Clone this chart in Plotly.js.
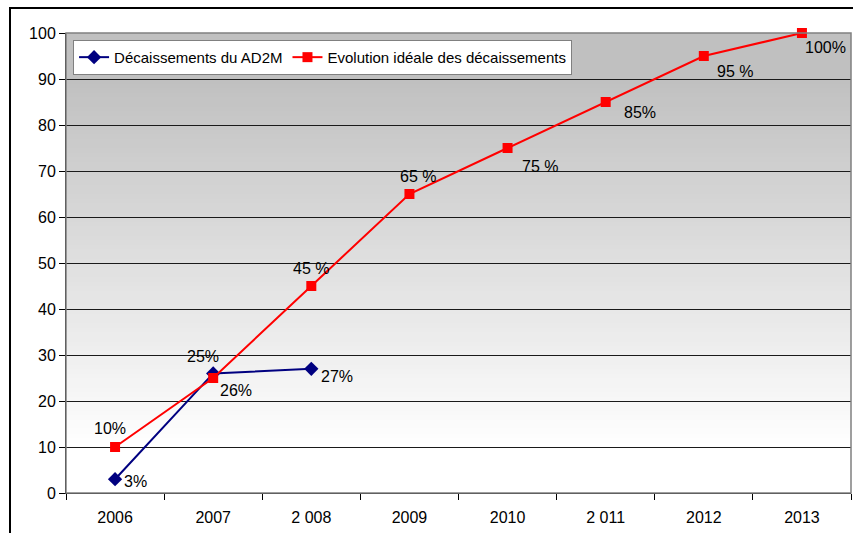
<!DOCTYPE html>
<html><head><meta charset="utf-8">
<script src="https://cdn.plot.ly/plotly-3.0.1.min.js"></script>
<style>
body{margin:0;padding:0;background:#fff;}
#wrap{position:relative;width:853px;height:533px;overflow:hidden;}
#chart{position:absolute;left:0;top:0;width:853px;height:533px;}
#frame{position:absolute;left:9px;top:7px;width:900px;height:600px;border:2px solid #000;pointer-events:none;}
</style></head>
<body><div id="wrap"><div id="chart"></div><div id="frame"></div></div>
<script>
const categories = ["2006","2007","2 008","2009","2010","2 011","2012","2013"];
const actualName = "Décaissements du AD2M";
const actualValues = [3, 26, 27];
const actualLabels = ["3%", "26%", "27%"];
const idealName = "Evolution idéale des décaissements";
const idealValues = [10, 25, 45, 65, 75, 85, 95, 100];
const idealLabels = ["10%", "25%", "45 %", "65 %", "75 %", "85%", "95 %", "100%"];
const yTicks = [0,10,20,30,40,50,60,70,80,90,100];

// label offsets (pixels) relative to points
const actualShift = [[20,-2],[23,-17],[26,-8]];
const idealShift = [[-5,19],[-10,22],[0,18],[9,18],[32,-18],[34,-10],[31,-15],[24,-14]];

const FONT = 'Liberation Sans, Arial, sans-serif';

const traces = [
  {x: categories.slice(0, actualValues.length), y: actualValues, name: actualName, type: 'scatter', mode: 'lines+markers',
   line: {color: '#000080', width: 2}, marker: {symbol: 'diamond', size: 11, color: '#000080'}, cliponaxis: false},
  {x: categories, y: idealValues, name: idealName, type: 'scatter', mode: 'lines+markers',
   line: {color: '#ff0000', width: 2}, marker: {symbol: 'square', size: 10, color: '#ff0000'}, cliponaxis: false}
];

const annotations = [];
actualValues.forEach((v, i) => annotations.push({x: i, y: v, text: actualLabels[i], showarrow: false,
  xshift: actualShift[i][0], yshift: actualShift[i][1], font: {family: FONT, size: 16, color: '#000'}}));
idealValues.forEach((v, i) => annotations.push({x: i, y: v, text: idealLabels[i], showarrow: false,
  xshift: idealShift[i][0], yshift: idealShift[i][1], font: {family: FONT, size: 16, color: '#000'}}));

// gradient background (solid grey at top, fading to white near the bottom)
const shapes = [];
const N = 100;
for (let k = 0; k < N; k++) {
  const yv = (k + 0.5) / N * 100;
  const f = Math.max(0, Math.min(1, (90 - yv) / 80));
  const c = Math.round(192 + (255 - 192) * f);
  const col = `rgb(${c},${c},${c})`;
  shapes.push({type: 'rect', xref: 'paper', yref: 'paper', x0: 0, x1: 1, y0: k / N, y1: Math.min(1, (k + 1.6) / N),
    fillcolor: col, line: {width: 0}, layer: 'below'});
}
shapes.push({type: 'rect', xref: 'paper', yref: 'paper', x0: 0, x1: 1, y0: 0, y1: 1,
  line: {color: '#808080', width: 1.5}, fillcolor: 'rgba(0,0,0,0)', layer: 'above'});

const layout = {
  width: 853, height: 533,
  margin: {l: 66, r: 2, t: 33, b: 40},
  paper_bgcolor: '#ffffff', plot_bgcolor: 'rgba(0,0,0,0)',
  font: {family: FONT, size: 16, color: '#000'},
  showlegend: true,
  legend: {x: 0.009, y: 0.985, xanchor: 'left', yanchor: 'top', orientation: 'h',
    bgcolor: '#ffffff', bordercolor: '#808080', borderwidth: 1,
    font: {family: FONT, size: 15, color: '#000'}, itemwidth: 30, tracegroupgap: 0},
  xaxis: {type: 'category', categoryarray: categories, range: [-0.5, 7.5], tickson: 'boundaries',
    ticks: 'outside', ticklen: 6, tickcolor: '#000', showgrid: false, showline: true, linecolor: '#000', linewidth: 1,
    tickfont: {size: 16}, ticklabelstandoff: 10, zeroline: false, fixedrange: true},
  yaxis: {range: [0, 100], tickvals: yTicks, ticks: 'outside', ticklen: 6, tickcolor: '#000',
    showgrid: true, gridcolor: '#1a1a1a', gridwidth: 1, showline: true, linecolor: '#000', linewidth: 1,
    zeroline: false, tickfont: {size: 16}, ticklabelstandoff: 0, fixedrange: true},
  shapes: shapes,
  annotations: annotations
};

Plotly.newPlot('chart', traces, layout, {displayModeBar: false, staticPlot: true});
</script></body></html>
